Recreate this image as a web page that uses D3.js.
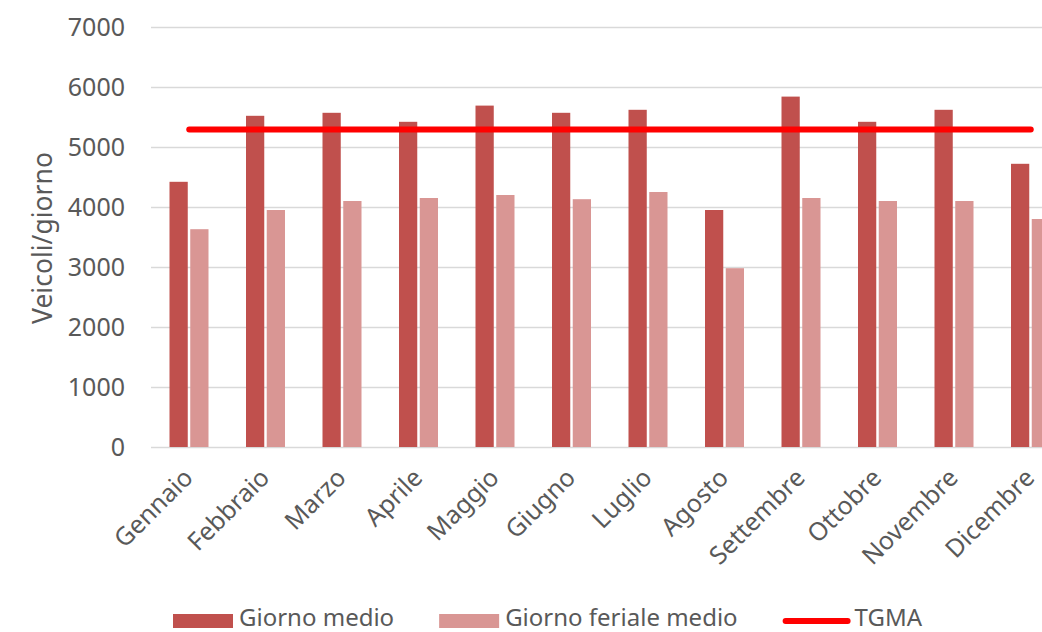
<!DOCTYPE html>
<html>
<head>
<meta charset="utf-8">
<script src="https://cdn.jsdelivr.net/npm/d3@7"></script>
<style>
  html, body { margin: 0; padding: 0; background: #ffffff; }
  svg { display: block; font-family: "Noto Sans", "Open Sans", sans-serif; }
</style>
</head>
<body>
<svg id="chart" width="1042" height="632"></svg>
<script>
const months = ["Gennaio", "Febbraio", "Marzo", "Aprile", "Maggio", "Giugno", "Luglio", "Agosto", "Settembre", "Ottobre", "Novembre", "Dicembre"];
const giornoMedio = [4420, 5520, 5570, 5420, 5690, 5570, 5620, 3950, 5840, 5420, 5620, 4720];
const giornoFerialeMedio = [3630, 3950, 4100, 4150, 4200, 4130, 4250, 2980, 4150, 4100, 4100, 3800];
const tgma = [5290, 5290, 5290, 5290, 5290, 5290, 5290, 5290, 5290, 5290, 5290, 5290];
const yTicks = [0, 1000, 2000, 3000, 4000, 5000, 6000, 7000];
const seriesNames = ["Giorno medio", "Giorno feriale medio", "TGMA"];
const colors = { dark: "#C0504D", light: "#D99694", line: "#FF0000" };

const svg = d3.select("#chart");
const plotLeft = 151, plotRight = 1069, plotTop = 27, plotBottom = 447;

const x = d3.scaleBand().domain(months).range([plotLeft, plotRight]).padding(0);
const xInner = d3.scaleBand().domain([0, 1]).range([18.5, 57.5]).paddingInner(0.12);
const y = d3.scaleLinear().domain([0, 7000]).range([plotBottom, plotTop]);

// gridlines
svg.append("g")
  .selectAll("line")
  .data(yTicks)
  .join("line")
  .attr("x1", plotLeft)
  .attr("x2", 1042)
  .attr("y1", d => Math.round(y(d)) + 0.5)
  .attr("y2", d => Math.round(y(d)) + 0.5)
  .attr("stroke", "#D9D9D9")
  .attr("stroke-width", 1.5);

// y axis tick labels
const yAxis = d3.axisLeft(y).tickValues(yTicks).tickSize(0).tickPadding(0).tickFormat(d3.format("d"));
const yg = svg.append("g").attr("transform", "translate(125,0)").call(yAxis);
yg.select(".domain").remove();
yg.selectAll("text")
  .attr("font-family", "Noto Sans")
  .attr("font-size", 25)
  .attr("fill", "#595959");

// y axis title
svg.append("text")
  .attr("transform", "translate(52,238) rotate(-90)")
  .attr("text-anchor", "middle")
  .attr("font-size", 26.5)
  .attr("fill", "#595959")
  .text("Veicoli/giorno");

// bars
const groups = svg.append("g")
  .selectAll("g")
  .data(months)
  .join("g")
  .attr("transform", d => `translate(${x(d)},0)`);

groups.append("rect")
  .attr("x", xInner(0))
  .attr("width", xInner.bandwidth())
  .attr("y", (d, i) => y(giornoMedio[i]))
  .attr("height", (d, i) => y(0) - y(giornoMedio[i]))
  .attr("fill", colors.dark);

groups.append("rect")
  .attr("x", xInner(1))
  .attr("width", xInner.bandwidth())
  .attr("y", (d, i) => y(giornoFerialeMedio[i]))
  .attr("height", (d, i) => y(0) - y(giornoFerialeMedio[i]))
  .attr("fill", colors.light);

// TGMA line
const line = d3.line()
  .x((d, i) => x(months[i]) + x.bandwidth() / 2)
  .y(d => y(d));
svg.append("path")
  .datum(tgma)
  .attr("d", line)
  .attr("fill", "none")
  .attr("stroke", colors.line)
  .attr("stroke-width", 6)
  .attr("stroke-linecap", "round");

// x labels
const xg = svg.append("g");
xg.selectAll("text")
  .data(months)
  .join("text")
  .attr("transform", d => `translate(${x(d) + x.bandwidth() / 2 - 1},${plotBottom + 26}) rotate(-45)`)
  .attr("text-anchor", "end")
  .attr("dy", "0.35em")
  .attr("font-size", 25)
  .attr("fill", "#595959")
  .text(d => d);

// legend
const legend = svg.append("g").attr("transform", "translate(173,620)");
let cx = 0;
seriesNames.forEach((name, i) => {
  const g = legend.append("g").attr("transform", `translate(${cx},0)`);
  if (i < 2) {
    g.append("rect").attr("x", 0).attr("y", -6).attr("width", 60).attr("height", 14)
      .attr("fill", i === 0 ? colors.dark : colors.light);
  } else {
    g.append("line").attr("x1", 3).attr("x2", 65).attr("y1", 1).attr("y2", 1)
      .attr("stroke", colors.line).attr("stroke-width", 6).attr("stroke-linecap", "round");
  }
  const sw = i < 2 ? 60 : 68;
  const gap = i < 2 ? 6 : 4;
  const t = g.append("text").attr("x", sw + gap).attr("y", -2).attr("dy", "0.35em")
    .attr("font-size", 24).attr("fill", "#595959").text(name);
  const w = t.node().getComputedTextLength();
  cx += sw + gap + w + 45;
});
</script>
</body>
</html>
